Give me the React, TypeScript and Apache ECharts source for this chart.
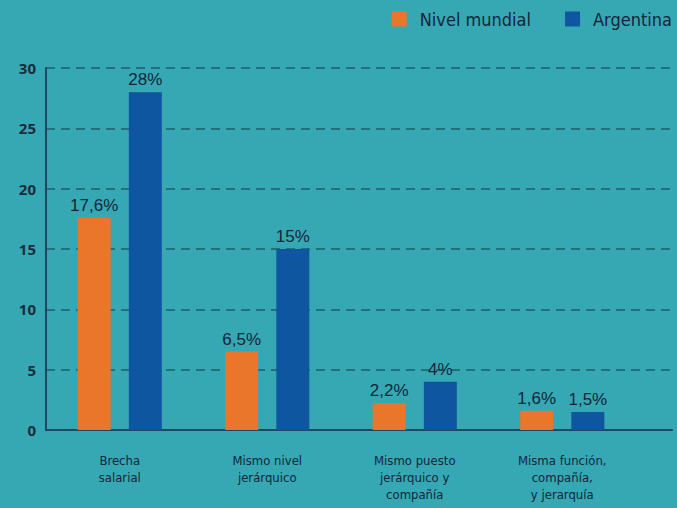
import React, { useEffect, useRef } from "react";
import * as echarts from "echarts";

const categories = [
  "Brecha\nsalarial",
  "Mismo nivel\njerárquico",
  "Mismo puesto\njerárquico y\ncompañía",
  "Misma función,\ncompañía,\ny jerarquía",
];
const seriesNames = ["Nivel mundial", "Argentina"];
const nivelMundial = [17.6, 6.5, 2.2, 1.6];
const argentina = [28, 15, 4, 1.5];
const yTicks = { min: 0, max: 30, interval: 5 };

const BG = "#36a8b3";
const ORANGE = "#e9762a";
const BLUE = "#0e56a0";
const DARK = "#13263a";
const NARROW = "'Liberation Sans Narrow', 'DejaVu Sans Condensed', 'Liberation Sans', sans-serif";

export default function App() {
  const ref = useRef<HTMLDivElement>(null);
  useEffect(() => {
    document.body.style.margin = "0";
    const chart = echarts.init(ref.current!, null, { renderer: "svg" });
    const fmt = (p: any) => String(p.value).replace(".", ",") + "%";
    chart.setOption({
      animation: false,
      backgroundColor: BG,
      legend: {
        data: seriesNames,
        right: 0,
        top: 5,
        icon: "rect",
        itemWidth: 15,
        itemHeight: 15,
        itemGap: 34,
        textStyle: {
          fontFamily: NARROW,
          fontSize: 18,
          color: DARK,
          padding: [0, 0, 0, 8],
        },
      },
      grid: [
        { left: 46, right: 5, top: 68, bottom: 78, containLabel: false },
        { left: 46, right: 41, top: 68, bottom: 78, containLabel: false },
      ],
      xAxis: [
        {
          type: "value",
          gridIndex: 0,
          min: 0,
          max: 1,
          axisLine: { show: true, onZero: false, lineStyle: { color: "#1b4a60", width: 2 } },
          axisTick: { show: false },
          axisLabel: { show: false },
          splitLine: { show: false },
        },
        {
          type: "category",
          gridIndex: 1,
          data: categories,
          axisLine: { show: false },
          axisTick: { show: false },
          axisLabel: {
            margin: 22,
            fontFamily: NARROW,
            fontSize: 13,
            lineHeight: 17,
            color: DARK,
            interval: 0,
          },
        },
      ],
      yAxis: [
        {
          type: "value",
          gridIndex: 0,
          min: yTicks.min,
          max: yTicks.max,
          interval: yTicks.interval,
          axisLine: { show: true, lineStyle: { color: "#1b4a60", width: 2 } },
          axisTick: { show: false },
          axisLabel: {
            margin: 10,
            fontFamily: "'Open Sans', 'Noto Sans', sans-serif",
            fontWeight: "bold",
            fontSize: 15,
            color: "#1a2c3c",
          },
          splitLine: {
            show: true,
            lineStyle: { color: "#1c5d6b", type: [9, 6], width: 1.5 },
          },
        },
        {
          type: "value",
          gridIndex: 1,
          min: yTicks.min,
          max: yTicks.max,
          interval: yTicks.interval,
          show: false,
        },
      ],
      series: [
        {
          name: seriesNames[0],
          type: "bar",
          xAxisIndex: 1,
          yAxisIndex: 1,
          data: nivelMundial,
          barWidth: 33,
          barGap: "55%",
          itemStyle: { color: ORANGE },
          label: {
            show: true,
            position: "top",
            distance: 4,
            formatter: fmt,
            fontFamily: "'Liberation Sans', Arial, sans-serif",
            fontSize: 17,
            color: DARK,
          },
        },
        {
          name: seriesNames[1],
          type: "bar",
          xAxisIndex: 1,
          yAxisIndex: 1,
          data: argentina,
          barWidth: 33,
          barGap: "55%",
          itemStyle: { color: BLUE },
          label: {
            show: true,
            position: "top",
            distance: 4,
            formatter: fmt,
            fontFamily: "'Liberation Sans', Arial, sans-serif",
            fontSize: 17,
            color: DARK,
          },
        },
      ],
    });
    return () => chart.dispose();
  }, []);
  return <div ref={ref} style={{ width: 677, height: 508 }} />;
}
